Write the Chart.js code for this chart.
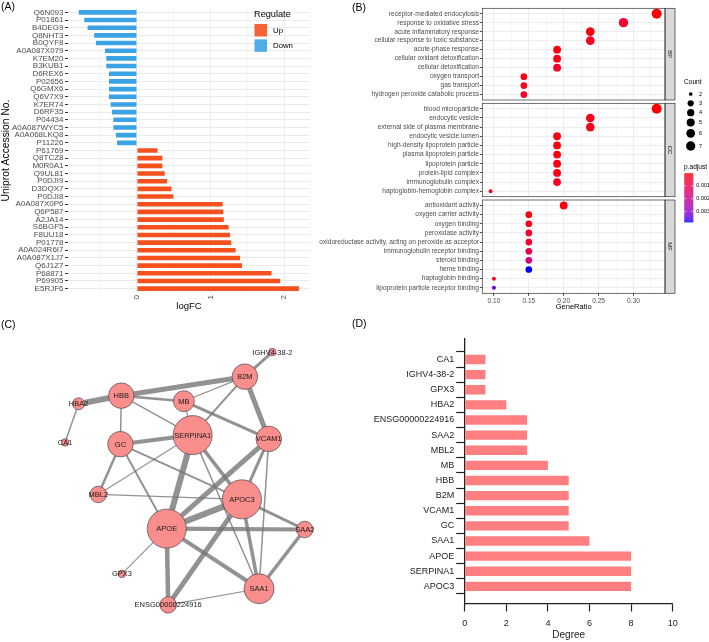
<!DOCTYPE html>
<html><head><meta charset="utf-8">
<script src="https://cdn.jsdelivr.net/npm/chart.js@4.4.1/dist/chart.umd.min.js"></script>
<style>
html,body{margin:0;padding:0;background:#fff;}
#wrap{position:relative;width:709px;height:642px;overflow:hidden;font-family:"Liberation Sans",Arial,sans-serif;background:#fff;}
canvas{position:absolute;}
.plab{position:absolute;font-size:10.5px;color:#000;line-height:12px;}
</style></head><body>
<div id="wrap">
<canvas id="cA" width="350" height="315" style="left:0;top:0;width:350px;height:315px"></canvas>
<canvas id="cBP" width="399" height="315" style="left:310px;top:0;width:399px;height:315px"></canvas>
<canvas id="cCC" width="399" height="315" style="left:310px;top:0;width:399px;height:315px"></canvas>
<canvas id="cMF" width="399" height="315" style="left:310px;top:0;width:399px;height:315px"></canvas>
<canvas id="cC" width="350" height="327" style="left:0;top:315px;width:350px;height:327px"></canvas>
<canvas id="cD" width="359" height="327" style="left:350px;top:315px;width:359px;height:327px"></canvas>
<div class="plab" style="left:1px;top:0px">(A)</div>
<div class="plab" style="left:352px;top:1px">(B)</div>
<div class="plab" style="left:1px;top:318px">(C)</div>
<div class="plab" style="left:352px;top:317px">(D)</div>
</div>
<script>
// ---------------- DATA ----------------
// Panel A
const accA = ['Q6N093','P01861','B4DEG9','Q8NHT3','B0QYF8','A0A087X079','K7EM20','B3KUB1','D6REX6','P02656','Q6GMX6','Q6V7X9','K7ER74','D6RF35','P04434','A0A087WYC5','A0A068LKQ8','P11226','P61769','Q8TCZ8','M0R0A1','Q9UL81','P0DJI9','D3DQX7','P0DJI8','A0A087X0P6','Q6P587','A2JA14','S6BGF5','F8UU18','P01778','A0A024R6I7','A0A087X1J7','Q6J1Z7','P68871','P69905','E5RJF6'];
const logFC = [-0.79,-0.715,-0.67,-0.58,-0.557,-0.434,-0.416,-0.416,-0.38,-0.38,-0.38,-0.38,-0.357,-0.34,-0.32,-0.32,-0.285,-0.27,0.28,0.345,0.345,0.377,0.41,0.47,0.495,1.164,1.173,1.18,1.245,1.264,1.28,1.34,1.40,1.427,1.827,1.945,2.2];
const fcTicks = [0, 1, 2];
const regulateLevels = ['Up', 'Down'];

// Panel B
const bpTerms = ['receptor-mediated endocytosis','response to oxidative stress','acute inflammatory response','cellular response to toxic substance','acute-phase response','cellular oxidant detoxification','cellular detoxification','oxygen transport','gas transport','hydrogen peroxide catabolic process'];
const bpRatio = [0.3333,0.2857,0.2381,0.2381,0.1905,0.1905,0.1905,0.1429,0.1429,0.1429];
const bpCount = [7,6,5,5,4,4,4,3,3,3];
const bpPadj  = [0.00002,0.00047,0.0001,0.0003,0.00015,0.00025,0.0004,0.00015,0.0002,0.0003];
const ccTerms = ['blood microparticle','endocytic vesicle','external side of plasma membrane','endocytic vesicle lumen','high-density lipoprotein particle','plasma lipoprotein particle','lipoprotein particle','protein-lipid complex','immunoglobulin complex','haptoglobin-hemoglobin complex'];
const ccRatio = [0.3333,0.2381,0.2381,0.1905,0.1905,0.1905,0.1905,0.1905,0.1905,0.0952];
const ccCount = [7,5,5,4,4,4,4,4,4,2];
const ccPadj  = [0.00003,0.0002,0.0003,0.00015,0.00015,0.00015,0.00015,0.0002,0.0003,0.0003];
const mfTerms = ['antioxidant activity','oxygen carrier activity','oxygen binding','peroxidase activity','oxidoreductase activity, acting on peroxide as acceptor','immunoglobulin receptor binding','steroid binding','heme binding','haptoglobin binding','lipoprotein particle receptor binding'];
const mfRatio = [0.20,0.15,0.15,0.15,0.15,0.15,0.15,0.15,0.10,0.10];
const mfCount = [4,3,3,3,3,3,3,3,2,2];
const mfPadj  = [0.0001,0.00013,0.00025,0.0004,0.00047,0.001,0.0017,0.0038,0.0004,0.0034];
const ratioTicks = [0.10, 0.15, 0.20, 0.25, 0.30];
const countLegend = [2,3,4,5,6,7];
const padjLegend = [0.001, 0.002, 0.003];

// Panel C (network)
const geneNodes = ['IGHV4-38-2','B2M','HBB','MB','HBA2','CA1','GC','SERPINA1','VCAM1','MBL2','APOC3','APOE','SAA2','GPX3','SAA1','ENSG00000224916'];
const layoutX = [0.99,0.68,-0.717,-0.01,-1.20,-1.353,-0.727,0.09,0.95,-0.977,0.647,-0.203,1.357,-0.71,0.84,-0.187];
const layoutY = [1.437,1.157,0.94,0.877,0.847,0.407,0.387,0.49,0.447,-0.187,-0.243,-0.577,-0.587,-1.093,-1.263,-1.447];
const edgeFrom = ['HBA2','HBB','HBA2','IGHV4-38-2','B2M','B2M','B2M','HBB','HBB','HBB','MB','MB','GC','GC','GC','GC','SERPINA1','SERPINA1','SERPINA1','SERPINA1','MBL2','VCAM1','VCAM1','VCAM1','APOE','APOC3','APOC3','APOC3','APOE','APOE','APOE','APOE','SAA1','SAA1'];
const edgeTo   = ['HBB','B2M','CA1','B2M','MB','SERPINA1','VCAM1','MB','GC','SERPINA1','SERPINA1','VCAM1','SERPINA1','MBL2','APOE','APOC3','MBL2','APOE','APOC3','SAA1','APOC3','APOE','APOC3','SAA1','APOC3','SAA2','SAA1','ENSG00000224916','SAA2','SAA1','ENSG00000224916','GPX3','SAA2','ENSG00000224916'];
const edgeScore = [0.92,0.77,0.23,0.46,0.18,0.31,0.77,0.38,0.23,0.23,0.18,0.46,0.62,0.38,0.31,0.28,0.18,0.92,0.54,0.23,0.18,0.77,0.46,0.23,0.92,0.46,0.54,0.77,0.62,0.62,0.69,0.18,0.54,0.18];

// Panel D
const degGenes = ['CA1','IGHV4-38-2','GPX3','HBA2','ENSG00000224916','SAA2','MBL2','MB','HBB','B2M','VCAM1','GC','SAA1','APOE','SERPINA1','APOC3'];
const degValues = [1,1,1,2,3,3,3,4,5,5,5,5,6,8,8,8];
const degTicks = [0,2,4,6,8,10];

// ---------------- HELPERS ----------------
const FONT = '"Liberation Sans", Arial, Helvetica, sans-serif';
Chart.defaults.font.family = FONT;
Chart.defaults.animation = false;
const base = {responsive:false, animation:false, devicePixelRatio:1, events:[]};
const upCol = '#F4511E', downCol = '#3BA3E3';

function near(a,b){return Math.abs(a-b)<1e-9;}
function withMinor(major, lo, hi){
  const step = major[1]-major[0]; const out=[];
  for(let v=major[0]-step; v<=major[major.length-1]+step+1e-9; v+=step/2){
    const r = Math.round(v*1e6)/1e6; if(r>=lo && r<=hi) out.push(r);
  }
  return out;
}
// CIELAB interpolation red -> blue (like ggplot gradient)
function s2l(c){c/=255;return c<=0.04045?c/12.92:Math.pow((c+0.055)/1.055,2.4);}
function l2s(c){const v=c<=0.0031308?12.92*c:1.055*Math.pow(c,1/2.4)-0.055;return Math.round(Math.max(0,Math.min(1,v))*255);}
function toLab(rgb){const [r,g,b]=rgb.map(s2l);
  const X=(0.4124*r+0.3576*g+0.1805*b)/0.95047,Y=0.2126*r+0.7152*g+0.0722*b,Z=(0.0193*r+0.1192*g+0.9505*b)/1.08883;
  const f=t=>t>0.008856?Math.cbrt(t):7.787*t+16/116;
  return [116*f(Y)-16,500*(f(X)-f(Y)),200*(f(Y)-f(Z))];}
function fromLab([L,a,b]){const fy=(L+16)/116,fx=fy+a/500,fz=fy-b/200;
  const fi=t=>t*t*t>0.008856?t*t*t:(t-16/116)/7.787;
  const X=fi(fx)*0.95047,Y=fi(fy),Z=fi(fz)*1.08883;
  const r=3.2406*X-1.5372*Y-0.4986*Z,g=-0.9689*X+1.8758*Y+0.0415*Z,bb=0.0557*X-0.2040*Y+1.0570*Z;
  return 'rgb('+l2s(r)+','+l2s(g)+','+l2s(bb)+')';}
const labLo = toLab([255,0,0]), labHi = toLab([0,0,255]);
const allP = bpPadj.concat(ccPadj, mfPadj);
const pMin = Math.min(...allP), pMax = Math.max(...allP);
function pCol(p){const t=Math.max(0,Math.min(1,(p-pMin)/(pMax-pMin)));return fromLab(labLo.map((v,i)=>v+(labHi[i]-v)*t));}
function countR(c){return 2+3*Math.sqrt((c-2)/5);}

// ---------------- PANEL A ----------------
const regLegend = {id:'regLegend', afterDraw(chart){
  const ctx=chart.ctx; ctx.save();
  ctx.fillStyle='#000'; ctx.textBaseline='middle'; ctx.textAlign='left';
  ctx.font='9.2px '+FONT; ctx.fillText('Regulate',254,14.5);
  chart.data.datasets.forEach((ds,i)=>{
    const y=24+i*15.3;
    ctx.fillStyle=ds.backgroundColor; ctx.globalAlpha=0.9; ctx.fillRect(254.5,y,12.5,12.5); ctx.globalAlpha=1;
    ctx.fillStyle='#000'; ctx.font='7.8px '+FONT; ctx.fillText(ds.label,273,y+6.5);
  });
  ctx.restore();
}};
const aTicks = withMinor(fcTicks, -0.936, 2.35);
new Chart(document.getElementById('cA'), {
  type:'bar',
  data:{labels:accA, datasets:[
    {label:regulateLevels[0], data:logFC.map(v=>v>0?v:null), backgroundColor:upCol, grouped:false, barPercentage:0.6, categoryPercentage:1},
    {label:regulateLevels[1], data:logFC.map(v=>v<0?v:null), backgroundColor:downCol, grouped:false, barPercentage:0.6, categoryPercentage:1}
  ]},
  options:Object.assign({}, base, {
    indexAxis:'y',
    layout:{padding:{left:0,right:40,top:8.5,bottom:2.6}},
    plugins:{legend:{display:false},tooltip:{enabled:false}},
    scales:{
      x:{type:'linear',min:-0.936,max:2.35,
        afterBuildTicks:s=>{s.ticks=aTicks.map(v=>({value:v}));},
        grid:{color:'#EBEBEB',lineWidth:c=>fcTicks.some(m=>near(m,c.tick.value))?1:0.5,drawTicks:false},
        border:{display:false},
        ticks:{callback:v=>fcTicks.some(m=>near(m,v))?String(v):'',minRotation:90,maxRotation:90,padding:2.5,font:{size:8},color:'#4D4D4D',autoSkip:false},
        title:{display:true,text:'logFC',font:{size:9.5},color:'#000',padding:0},
        afterFit:s=>{s.height=19.9;}},
      y:{grid:{color:'#EBEBEB',lineWidth:1,offset:false,tickLength:3,tickColor:'#333',drawTicks:true},
        border:{display:false},
        ticks:{font:{size:8},color:'#4D4D4D',padding:1.5,autoSkip:false},
        title:{display:true,text:'Uniprot Accession No.',font:{size:10.3},color:'#000',padding:0},
        afterFit:s=>{s.width=68;}}
    }
  }),
  plugins:[regLegend]
});

// ---------------- PANEL B ----------------
const BX = 40; // canvas extends 40px left of the panel so long labels can overflow
const stripPlugin = {id:'facetStrip', afterDraw(chart,args,opts){
  if(!opts || !opts.label) return;
  const ctx=chart.ctx,a=chart.chartArea; ctx.save();
  ctx.fillStyle='#D9D9D9'; ctx.fillRect(a.right,a.top,10,a.bottom-a.top);
  ctx.strokeStyle='#333'; ctx.lineWidth=0.7;
  ctx.strokeRect(a.right,a.top,10,a.bottom-a.top);
  ctx.strokeRect(a.left,a.top,a.right-a.left,a.bottom-a.top);
  ctx.translate(a.right+5,(a.top+a.bottom)/2); ctx.rotate(Math.PI/2);
  ctx.fillStyle='#1A1A1A'; ctx.font='6px '+FONT; ctx.textAlign='center'; ctx.textBaseline='middle';
  ctx.fillText(opts.label,0,0); ctx.restore();
}};
const bLegend = {id:'bLegend', afterDraw(chart,args,opts){
  if(!opts || !opts.show) return;
  const ctx=chart.ctx; ctx.save();
  ctx.fillStyle='#000'; ctx.textAlign='left'; ctx.textBaseline='middle';
  ctx.font='6.6px '+FONT; ctx.fillText('Count',BX+334,82);
  const ys=[94,103.3,112.7,122.5,133.3,146];
  countLegend.forEach((c,i)=>{
    ctx.beginPath(); ctx.fillStyle='#000'; ctx.arc(BX+340.7,ys[i],countR(c)*0.93,0,Math.PI*2); ctx.fill();
    ctx.font='5.5px '+FONT; ctx.fillText(String(c),BX+349,ys[i]);
  });
  ctx.font='6.6px '+FONT; ctx.fillText('p.adjust',BX+334,167.5);
  const top=173.3,h=48.4,x0=BX+334.3,w=9;
  for(let k=0;k<h;k++){ctx.fillStyle=pCol(pMin+(pMax-pMin)*(k+0.5)/h); ctx.fillRect(x0,top+k,w,1.05);}
  ctx.font='5.5px '+FONT; ctx.strokeStyle='#fff'; ctx.lineWidth=0.6;
  padjLegend.forEach(p=>{
    const y=top+(p-pMin)/(pMax-pMin)*h;
    ctx.beginPath(); ctx.moveTo(x0,y); ctx.lineTo(x0+2,y); ctx.moveTo(x0+w-2,y); ctx.lineTo(x0+w,y); ctx.stroke();
    ctx.fillStyle='#000'; ctx.fillText(p.toFixed(3),x0+w+3,y);
  });
  ctx.restore();
}};
const bTicks = withMinor(ratioTicks, 0.0833, 0.3452);
function facet(id, terms, ratio, count, padj, strip, top, bottom, showX){
  new Chart(document.getElementById(id), {
    type:'bubble',
    data:{datasets:[{data:terms.map((t,i)=>({x:ratio[i],y:i,r:countR(count[i])})),
      backgroundColor:padj.map(pCol),borderWidth:0,hoverRadius:0}]},
    options:Object.assign({}, base, {
      clip:false,
      layout:{padding:{left:0,right:44,top:top,bottom:showX?3.8:315-bottom}},
      plugins:{legend:{display:false},tooltip:{enabled:false},facetStrip:{label:strip},bLegend:{show:showX}},
      scales:{
        x:{type:'linear',min:0.0833,max:0.3452,
          afterBuildTicks:s=>{s.ticks=bTicks.map(v=>({value:v}));},
          grid:{color:'#EBEBEB',lineWidth:c=>ratioTicks.some(m=>near(m,c.tick.value))?0.9:0.45,
            drawTicks:showX,tickLength:2.5,tickColor:c=>ratioTicks.some(m=>near(m,c.tick.value))?'#333':'rgba(0,0,0,0)'},
          border:{display:false},
          ticks:{display:showX,callback:v=>ratioTicks.some(m=>near(m,v))?v.toFixed(2):'',font:{size:6.6},color:'#4D4D4D',padding:1,maxRotation:0,autoSkip:false},
          title:{display:showX,text:'GeneRatio',font:{size:7.5},color:'#000',padding:0},
          afterFit:s=>{s.height=showX?17.9:0;}},
        y:{type:'linear',reverse:true,min:-0.6,max:terms.length-0.4,
          afterBuildTicks:s=>{s.ticks=terms.map((t,i)=>({value:i}));},
          ticks:{callback:v=>terms[v],font:{size:6.6},color:'#4D4D4D',padding:0.8,autoSkip:false},
          grid:{color:'#EBEBEB',lineWidth:0.9,tickLength:2.5,tickColor:'#333'},
          border:{display:false},
          afterFit:s=>{s.width=BX+132.3;}}
      }
    }),
    plugins:[stripPlugin,bLegend]
  });
}
facet('cBP', bpTerms, bpRatio, bpCount, bpPadj, 'BP', 8.3, 100, false);
facet('cCC', ccTerms, ccRatio, ccCount, ccPadj, 'CC', 103.3, 196.7, false);
facet('cMF', mfTerms, mfRatio, mfCount, mfPadj, 'MF', 200, 293.3, true);

// ---------------- PANEL C ----------------
const idx = g => geneNodes.indexOf(g);
const degreeOf = geneNodes.map(g => edgeFrom.filter(e=>e===g).length + edgeTo.filter(e=>e===g).length);
const edgeSets = edgeFrom.map((f,i)=>({
  type:'line', order:1,
  data:[{x:layoutX[idx(f)],y:layoutY[idx(f)]},{x:layoutX[idx(edgeTo[i])],y:layoutY[idx(edgeTo[i])]}],
  borderColor:'rgba(115,115,115,0.78)', borderWidth:6.5*edgeScore[i], pointRadius:0, fill:false, borderCapStyle:'butt'
}));
const nodeLabels = {id:'nodeLabels', afterDatasetsDraw(chart){
  const ctx=chart.ctx,xs=chart.scales.x,ys=chart.scales.y; ctx.save();
  ctx.font='7.5px '+FONT; ctx.fillStyle='#1a1a1a'; ctx.textAlign='center'; ctx.textBaseline='middle';
  geneNodes.forEach((g,i)=>ctx.fillText(g,xs.getPixelForValue(layoutX[i]),ys.getPixelForValue(layoutY[i])+0.5));
  ctx.restore();
}};
new Chart(document.getElementById('cC'), {
  type:'scatter',
  data:{datasets:[{type:'bubble',order:0,
    data:geneNodes.map((g,i)=>({x:layoutX[i],y:layoutY[i],r:1.5+2.25*degreeOf[i]})),
    backgroundColor:'#F98E8C',borderColor:'#4a4a4a',borderWidth:0.7}].concat(edgeSets)},
  options:Object.assign({}, base, {
    layout:{padding:0},
    plugins:{legend:{display:false},tooltip:{enabled:false}},
    scales:{x:{type:'linear',display:false,min:-1.86,max:1.64},y:{type:'linear',display:false,min:-1.64,max:1.63}}
  }),
  plugins:[nodeLabels]
});

// ---------------- PANEL D ----------------
new Chart(document.getElementById('cD'), {
  type:'bar',
  data:{datasets:[{data:degGenes.map((g,i)=>({x:degValues[i],y:i})),backgroundColor:'#FF7F80',barPercentage:0.62,categoryPercentage:1}]},
  options:Object.assign({}, base, {
    indexAxis:'y',
    layout:{padding:{left:0,right:36.3,top:23.3,bottom:0.3}},
    plugins:{legend:{display:false},tooltip:{enabled:false}},
    scales:{
      x:{type:'linear',min:0,max:10,
        afterBuildTicks:s=>{s.ticks=degTicks.map(v=>({value:v}));},
        grid:{drawOnChartArea:false,drawTicks:true,tickLength:7.5,tickColor:'#222',tickWidth:1.2},
        border:{color:'#222',width:1.3},
        ticks:{font:{size:9},color:'#222',padding:7,maxRotation:0},
        title:{display:true,text:'Degree',font:{size:10},color:'#222',padding:0},
        afterFit:s=>{s.height=37.7;}},
      y:{type:'linear',reverse:true,min:-0.85,max:15.62,
        afterBuildTicks:s=>{s.ticks=degGenes.map((g,i)=>({value:i}));},
        grid:{drawOnChartArea:false,drawTicks:true,tickLength:8.5,tickColor:'#222',tickWidth:1.2},
        border:{color:'#222',width:1.3},
        ticks:{callback:v=>degGenes[v],font:{size:9},color:'#222',padding:2,autoSkip:false},
        afterFit:s=>{s.width=114.7;}}
    }
  })
});
</script>
</body></html>
